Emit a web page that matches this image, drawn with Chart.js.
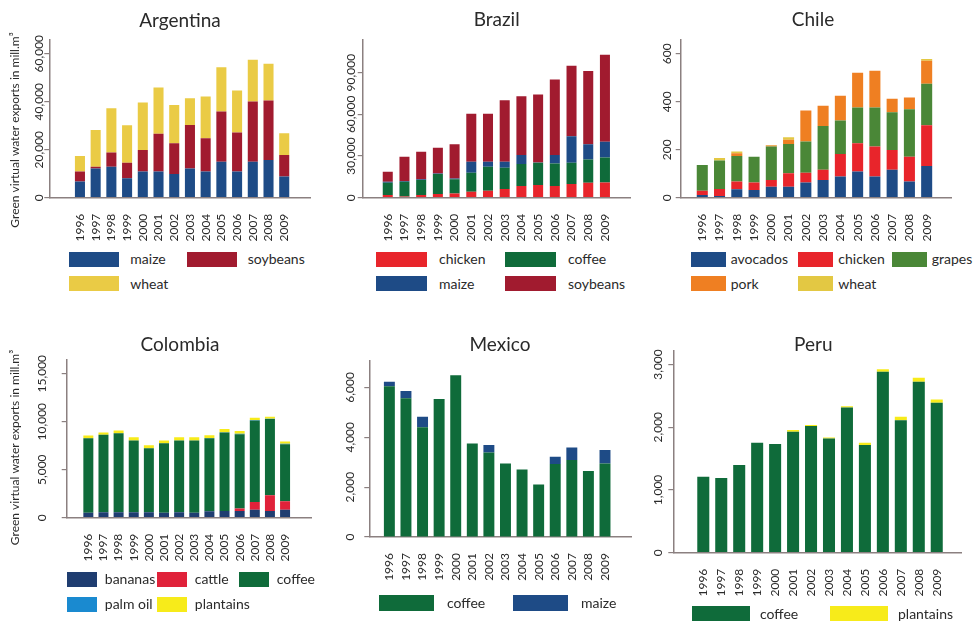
<!DOCTYPE html>
<html>
<head>
<meta charset="utf-8">
<script src="https://cdn.jsdelivr.net/npm/chart.js@4.4.1/dist/chart.umd.min.js"></script>
<style>
  html, body { margin: 0; padding: 0; background: #fff; }
  #wrap { position: relative; width: 977px; height: 623px; overflow: hidden; font-family: Lato, "Open Sans", sans-serif; color: #2a2a2a; }
  #wrap canvas { position: absolute; }
  .sw { position: absolute; }
  .tx { position: absolute; font-size: 14px; white-space: nowrap; transform: translateY(-50%); line-height: 16px; }
</style>
</head>
<body>
<div id="wrap"></div>
<script>
// ---- data -------------------------------------------------------------
const years = [1996, 1997, 1998, 1999, 2000, 2001, 2002, 2003, 2004, 2005, 2006, 2007, 2008, 2009];

// Argentina (mill. m3)
const argMaize    = [6700, 12200, 12900, 8100, 10900, 10900, 9900, 12200, 10900, 15000, 10900, 15000, 15700, 8800];
const argSoybeans = [4200, 700, 5900, 6500, 9000, 15700, 12800, 18100, 13900, 20900, 16300, 25100, 24800, 9000];
const argWheat    = [6500, 15300, 18500, 15600, 19800, 19300, 15900, 11100, 17400, 18500, 17500, 17400, 15300, 9100];
const argTicks    = [0, 20000, 40000, 60000];

// Brazil
const braChicken  = [1900, 800, 1900, 2600, 3100, 4300, 5000, 6200, 8400, 9100, 8400, 9800, 10800, 11000];
const braCoffee   = [8900, 10700, 10800, 14400, 10100, 13600, 17200, 15400, 15800, 16000, 16300, 15300, 16700, 18000];
const braMaize    = [700, 500, 500, 500, 700, 7900, 3600, 4300, 6500, 300, 6000, 19200, 11000, 11200];
const braSoybeans = [7200, 17400, 19900, 18400, 24600, 34700, 34700, 44300, 42400, 48800, 54300, 50700, 52700, 62700];
const braTicks    = [0, 30000, 60000, 90000];

// Chile
const chiAvocados = [11, 7, 35, 32, 46, 46, 63, 74, 88, 109, 88, 116, 67, 132];
const chiChicken  = [18, 29, 32, 31, 28, 56, 41, 42, 94, 118, 125, 83, 104, 170];
const chiGrapes   = [107, 119, 107, 108, 139, 122, 130, 183, 140, 149, 163, 157, 198, 173];
const chiPork     = [0, 0, 11, 0, 4, 17, 129, 84, 103, 145, 153, 56, 49, 96];
const chiWheat    = [0, 10, 7, 0, 3, 11, 0, 0, 0, 0, 0, 0, 0, 7];
const chiTicks    = [0, 200, 400, 600];

// Colombia
const colBananas   = [520, 560, 560, 560, 560, 520, 560, 520, 660, 700, 700, 840, 700, 840];
const colCattle    = [0, 0, 0, 0, 0, 0, 0, 0, 0, 0, 250, 800, 1640, 870];
const colCoffee    = [7760, 8070, 8240, 7480, 6680, 7240, 7480, 7520, 7620, 8170, 7750, 8490, 7930, 5950];
const colPalmOil   = [0, 0, 0, 0, 0, 0, 0, 0, 30, 30, 40, 40, 50, 50];
const colPlantains = [280, 240, 280, 350, 310, 280, 350, 350, 280, 350, 280, 240, 200, 240];
const colTicks     = [0, 5000, 10000, 15000];

// Mexico
const mexCoffee = [6050, 5560, 4400, 5530, 6490, 3750, 3390, 2950, 2710, 2110, 2930, 3090, 2650, 2950];
const mexMaize  = [180, 290, 420, 0, 0, 0, 300, 0, 0, 0, 290, 500, 0, 540];
const mexTicks  = [0, 2000, 4000, 6000];

// Peru
const peruCoffee    = [1211, 1189, 1397, 1752, 1731, 1928, 2018, 1821, 2315, 1715, 2883, 2113, 2724, 2390];
const peruPlantains = [0, 0, 0, 0, 0, 26, 16, 16, 21, 37, 43, 53, 64, 53];
const peruTicks     = [0, 1000, 2000, 3000];

const yAxisTitle = 'Green virtual water exports in mill.m\u00B3';

// ---- palette -------------------------------------------------------------
const COL = {
  maize: '#1e4b86', soy: '#a11b2f', wheat: '#eacb45', chicken: '#e8252b',
  coffee: '#0f6b3a', grapes: '#4a8737', pork: '#ef7f22', chiWheat: '#e3c843',
  bananas: '#1f3d70', cattle: '#e0223a', palm: '#1a8ad0', plantains: '#f7eb1a',
  axis: '#8b8080', text: '#2a2a2a'
};

// ---- panels ---------------------------------------------------------------
const panels = [
  { name: 'Argentina', ticks: argTicks, yTitle: true,
    series: [['maize', argMaize, COL.maize], ['soybeans', argSoybeans, COL.soy], ['wheat', argWheat, COL.wheat]],
    box: { x: 0, y: 0, w: 325, h: 250 }, area: { l: 49.3, r: 310, t: 39.3, b: 197.7 },
    xMin: 1994.05, xMax: 2010.64, yMax: 66000, bar: 0.64,
    title: { x: 180, y: 20.5 }, tickX: 39, yTitlePos: { x: 15, y: 130 },
    legend: { cols: [69.3, 186.7], top: 251.7, pitch: 24.3, bw: 50, bh: 15, gap: 11 } },
  { name: 'Brazil', ticks: braTicks,
    series: [['chicken', braChicken, COL.chicken], ['coffee', braCoffee, COL.coffee], ['maize', braMaize, COL.maize], ['soybeans', braSoybeans, COL.soy]],
    box: { x: 325, y: 0, w: 320, h: 250 }, area: { l: 362.7, r: 630, t: 39.3, b: 197.7 },
    xMin: 1994.5, xMax: 2010.5, yMax: 114000, bar: 0.6,
    title: { x: 496.7, y: 20 }, tickX: 351,
    legend: { cols: [376, 505], top: 251.7, pitch: 24.3, bw: 51, bh: 15, gap: 12 } },
  { name: 'Chile', ticks: chiTicks,
    series: [['avocados', chiAvocados, COL.maize], ['chicken', chiChicken, COL.chicken], ['grapes', chiGrapes, COL.grapes], ['pork', chiPork, COL.pork], ['wheat', chiWheat, COL.chiWheat]],
    box: { x: 645, y: 0, w: 332, h: 250 }, area: { l: 680.7, r: 951.7, t: 39.3, b: 197.7 },
    xMin: 1994.75, xMax: 2010.45, yMax: 660, bar: 0.64,
    title: { x: 813, y: 20 }, tickX: 666.7,
    legend: { cols: [690.7, 798.3, 891.7], top: 251.7, pitch: 24.3, bw: 35, bh: 15, gap: 5 } },
  { name: 'Colombia', ticks: colTicks, yTitle: true,
    series: [['bananas', colBananas, COL.bananas], ['cattle', colCattle, COL.cattle], ['coffee', colCoffee, COL.coffee], ['palm oil', colPalmOil, COL.palm], ['plantains', colPlantains, COL.plantains]],
    box: { x: 0, y: 320, w: 325, h: 270 }, area: { l: 66.7, r: 311.7, t: 359.3, b: 517.7 },
    xMin: 1994.57, xMax: 2010.76, yMax: 16500, bar: 0.66,
    title: { x: 180, y: 345 }, tickX: 41.7, yTitlePos: { x: 15, y: 447.5 },
    legend: { cols: [67.3, 157.3, 239.3], top: 571.7, pitch: 25, bw: 29.5, bh: 15, gap: 8 } },
  { name: 'Mexico', ticks: mexTicks,
    series: [['coffee', mexCoffee, COL.coffee], ['maize', mexMaize, COL.maize]],
    box: { x: 325, y: 320, w: 320, h: 275 }, area: { l: 369.3, r: 631.7, t: 360.7, b: 537 },
    xMin: 1994.79, xMax: 2010.61, yMax: 7070, bar: 0.66,
    title: { x: 500, y: 345 }, tickX: 350,
    legend: { cols: [379, 513], top: 595, pitch: 25, bw: 55, bh: 16, gap: 13 } },
  { name: 'Peru', ticks: peruTicks,
    series: [['coffee', peruCoffee, COL.coffee], ['plantains', peruPlantains, COL.plantains]],
    box: { x: 645, y: 320, w: 332, h: 290 }, area: { l: 673.3, r: 961.7, t: 350.7, b: 552.7 },
    xMin: 1994.33, xMax: 2010.39, yMax: 3220, bar: 0.67,
    title: { x: 813.3, y: 345 }, tickX: 658.3,
    legend: { cols: [692, 830], top: 606, pitch: 25, bw: 58, bh: 15, gap: 10 } }
];

Chart.defaults.font.family = 'Lato, "Open Sans", sans-serif';
Chart.defaults.color = COL.text;

const wrap = document.getElementById('wrap');
const Y_W = 6;   // width reserved for the y axis (tick marks)
const X_H = 50;  // height reserved for the rotated year labels

function fmt(v) { return v.toLocaleString('en-US'); }

panels.forEach(p => {
  const cv = document.createElement('canvas');
  cv.width = p.box.w; cv.height = p.box.h;
  cv.style.left = p.box.x + 'px'; cv.style.top = p.box.y + 'px';
  cv.style.width = p.box.w + 'px'; cv.style.height = p.box.h + 'px';
  wrap.appendChild(cv);

  const pad = {
    left: p.area.l - p.box.x - Y_W,
    right: p.box.x + p.box.w - p.area.r,
    top: p.area.t - p.box.y,
    bottom: p.box.y + p.box.h - p.area.b - X_H
  };

  // Title, rotated value labels and the rotated axis title
  const panelText = {
    id: 'panelText',
    afterDraw(chart) {
      const ctx = chart.ctx;
      const ys = chart.scales.y;
      ctx.save();
      ctx.fillStyle = COL.text;
      ctx.textAlign = 'center';
      ctx.textBaseline = 'middle';
      ctx.font = '19px Lato, "Open Sans", sans-serif';
      ctx.fillText(p.name, p.title.x - p.box.x, p.title.y - p.box.y);

      ctx.font = '12px Lato, "Open Sans", sans-serif';
      p.ticks.forEach(v => {
        ctx.save();
        ctx.translate(p.tickX - p.box.x, ys.getPixelForValue(v));
        ctx.rotate(-Math.PI / 2);
        ctx.fillText(fmt(v), 0, 0);
        ctx.restore();
      });

      if (p.yTitle) {
        ctx.font = '12px Lato, "Open Sans", sans-serif';
        ctx.translate(p.yTitlePos.x - p.box.x, p.yTitlePos.y - p.box.y);
        ctx.rotate(-Math.PI / 2);
        ctx.fillText(yAxisTitle, 0, 0);
      }
      ctx.restore();
    }
  };

  new Chart(cv, {
    type: 'bar',
    data: {
      labels: years,
      datasets: p.series.map(s => ({
        label: s[0], data: s[1], backgroundColor: s[2], borderWidth: 0,
        barPercentage: p.bar, categoryPercentage: 1
      }))
    },
    options: {
      responsive: false,
      animation: false,
      events: [],
      layout: { padding: pad, autoPadding: false },
      plugins: { legend: { display: false }, title: { display: false }, tooltip: { enabled: false } },
      scales: {
        x: {
          type: 'linear', stacked: true, offset: false,
          min: p.xMin, max: p.xMax,
          afterBuildTicks: sc => { sc.ticks = years.map(v => ({ value: v })); },
          afterFit: sc => { sc.height = X_H; },
          grid: { display: false },
          border: { display: true, color: COL.axis, width: 1.5 },
          ticks: {
            autoSkip: false, minRotation: 90, maxRotation: 90, padding: 8,
            font: { size: 12 }, color: COL.text,
            callback: v => String(v)
          }
        },
        y: {
          stacked: true, min: 0, max: p.yMax,
          afterBuildTicks: sc => { sc.ticks = p.ticks.map(v => ({ value: v })); },
          afterFit: sc => { sc.width = Y_W; },
          grid: { display: true, drawOnChartArea: false, drawTicks: true, tickLength: 5, color: COL.axis, lineWidth: 1.2 },
          border: { display: true, color: COL.axis, width: 1.5 },
          ticks: { display: false }
        }
      }
    },
    plugins: [panelText]
  });

  // Legend built from the same series
  const lg = p.legend;
  const nc = lg.cols.length;
  p.series.forEach((s, i) => {
    const col = i % nc, row = Math.floor(i / nc);
    const top = lg.top + row * lg.pitch;
    const sw = document.createElement('div');
    sw.className = 'sw';
    sw.style.left = lg.cols[col] + 'px';
    sw.style.top = top + 'px';
    sw.style.width = lg.bw + 'px';
    sw.style.height = lg.bh + 'px';
    sw.style.background = s[2];
    wrap.appendChild(sw);
    const tx = document.createElement('div');
    tx.className = 'tx';
    tx.style.left = (lg.cols[col] + lg.bw + lg.gap) + 'px';
    tx.style.top = (top + lg.bh / 2) + 'px';
    tx.textContent = s[0];
    wrap.appendChild(tx);
  });
});
</script>
</body>
</html>
